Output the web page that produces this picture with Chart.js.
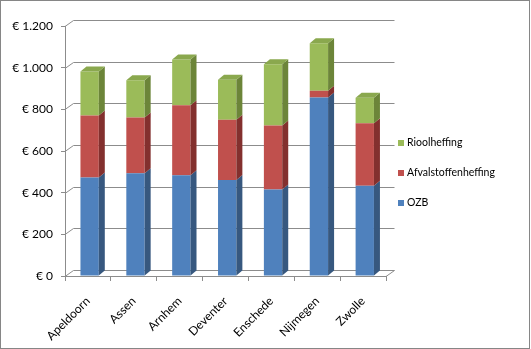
<!DOCTYPE html>
<html>
<head>
<meta charset="utf-8">
<script src="https://cdn.jsdelivr.net/npm/chart.js@4.4.0/dist/chart.umd.min.js"></script>
<style>
html, body { margin: 0; padding: 0; background: #fff; }
</style>
</head>
<body>
<canvas id="chart" width="531" height="349"></canvas>
<script>
// data
const cities = ['Apeldoorn', 'Assen', 'Arnhem', 'Deventer', 'Enschede', 'Nijmegen', 'Zwolle'];
const ozb = [473, 493, 484, 461, 415, 857, 433];
const afvalstoffenheffing = [298, 268, 336, 289, 307, 32, 300];
const rioolheffing = [211, 179, 219, 192, 295, 228, 123];
const seriesNames = ['OZB', 'Afvalstoffenheffing', 'Rioolheffing'];

const frontColors = ['#4F81BD', '#C0504D', '#9BBB59'];
const sideColors = ['#37587F', '#83302E', '#6C8539'];
const topColor = '#8AA84E';
const gridColor = '#8C8C8C';

// depth of bars and of the back wall
const DX = 6, DY = -5, SHIFT = 1.7;
const WX = 8.5, WY = -6;

function euro(v) {
    var s = String(v);
    if (v >= 1000) s = Math.floor(v / 1000) + '.' + String(v % 1000).padStart(3, '0');
    return '€ ' + s;
}

var threeD = {
    id: 'threeD',
    beforeDatasetsDraw: function (chart) {
        var ctx = chart.ctx, a = chart.chartArea, y = chart.scales.y;
        ctx.save();
        ctx.strokeStyle = gridColor;
        ctx.lineWidth = 1;
        y.ticks.forEach(function (t) {
            var py = Math.round(y.getPixelForValue(t.value)) + 0.5;
            ctx.beginPath();
            ctx.moveTo(a.left, py);
            ctx.lineTo(a.left + WX, py + WY);
            ctx.lineTo(a.right + WX, py + WY);
            ctx.stroke();
        });
        var by = Math.round(a.bottom) + 0.5;
        ctx.beginPath();
        ctx.moveTo(a.right, by);
        ctx.lineTo(a.right + WX, by + WY);
        ctx.stroke();
        ctx.restore();
        ctx.save();
        ctx.translate(SHIFT, 0);
    },
    afterDatasetsDraw: function (chart) {
        var ctx = chart.ctx;
        ctx.restore();
        var n = chart.data.datasets.length;
        chart.data.datasets.forEach(function (ds, i) {
            var meta = chart.getDatasetMeta(i);
            meta.data.forEach(function (bar) {
                var p = bar.getProps(['x', 'y', 'base', 'width'], true);
                var l = p.x - p.width / 2 + SHIFT, r = p.x + p.width / 2 + SHIFT;
                ctx.fillStyle = sideColors[i];
                ctx.beginPath();
                ctx.moveTo(r, p.y);
                ctx.lineTo(r + DX, p.y + DY);
                ctx.lineTo(r + DX, p.base + DY);
                ctx.lineTo(r, p.base);
                ctx.closePath();
                ctx.fill();
                if (i === n - 1) {
                    ctx.fillStyle = topColor;
                    ctx.beginPath();
                    ctx.moveTo(l, p.y);
                    ctx.lineTo(l + DX, p.y + DY);
                    ctx.lineTo(r + DX, p.y + DY);
                    ctx.lineTo(r, p.y);
                    ctx.closePath();
                    ctx.fill();
                }
            });
        });
    },
    afterDraw: function (chart) {
        var ctx = chart.ctx;
        ctx.save();
        // legend, top series first
        ctx.font = '10.5px Lato';
        ctx.textBaseline = 'middle';
        var ys = [143, 173, 203];
        for (var k = 0; k < 3; k++) {
            var i = 2 - k;
            ctx.fillStyle = frontColors[i];
            ctx.fillRect(398, ys[k] - 3, 6, 6);
            ctx.fillStyle = '#000';
            ctx.fillText(chart.data.datasets[i].label, 407, ys[k]);
        }
        // outer frame
        ctx.strokeStyle = '#868686';
        ctx.lineWidth = 1;
        ctx.strokeRect(0.5, 0.5, 529, 348);
        ctx.restore();
    }
};

Chart.defaults.font.family = 'Lato';
Chart.defaults.font.size = 12;
Chart.defaults.color = '#000';

new Chart(document.getElementById('chart').getContext('2d'), {
    type: 'bar',
    data: {
        labels: cities,
        datasets: [
            { label: seriesNames[0], data: ozb, backgroundColor: frontColors[0] },
            { label: seriesNames[1], data: afvalstoffenheffing, backgroundColor: frontColors[1] },
            { label: seriesNames[2], data: rioolheffing, backgroundColor: frontColors[2] }
        ]
    },
    options: {
        responsive: false,
        animation: false,
        devicePixelRatio: 1,
        barPercentage: 0.4,
        categoryPercentage: 1,
        borderWidth: 0,
        layout: { padding: { left: 0, top: 26, right: 145, bottom: 0 } },
        plugins: {
            legend: { display: false },
            tooltip: { enabled: false }
        },
        scales: {
            x: {
                stacked: true,
                grid: { drawOnChartArea: false, drawTicks: true, tickLength: 5, color: gridColor },
                border: { display: true, color: gridColor },
                ticks: { minRotation: 45, maxRotation: 45, padding: 13 },
                afterFit: function (s) { s.height = 73; }
            },
            y: {
                stacked: true,
                min: 0,
                max: 1200,
                grid: { drawOnChartArea: false, drawTicks: true, tickLength: 4, color: gridColor },
                border: { display: true, color: gridColor },
                ticks: { stepSize: 200, padding: 8, callback: function (v) { return euro(v); } },
                afterFit: function (s) { s.width = 65; }
            }
        }
    },
    plugins: [threeD]
});
</script>
</body>
</html>
